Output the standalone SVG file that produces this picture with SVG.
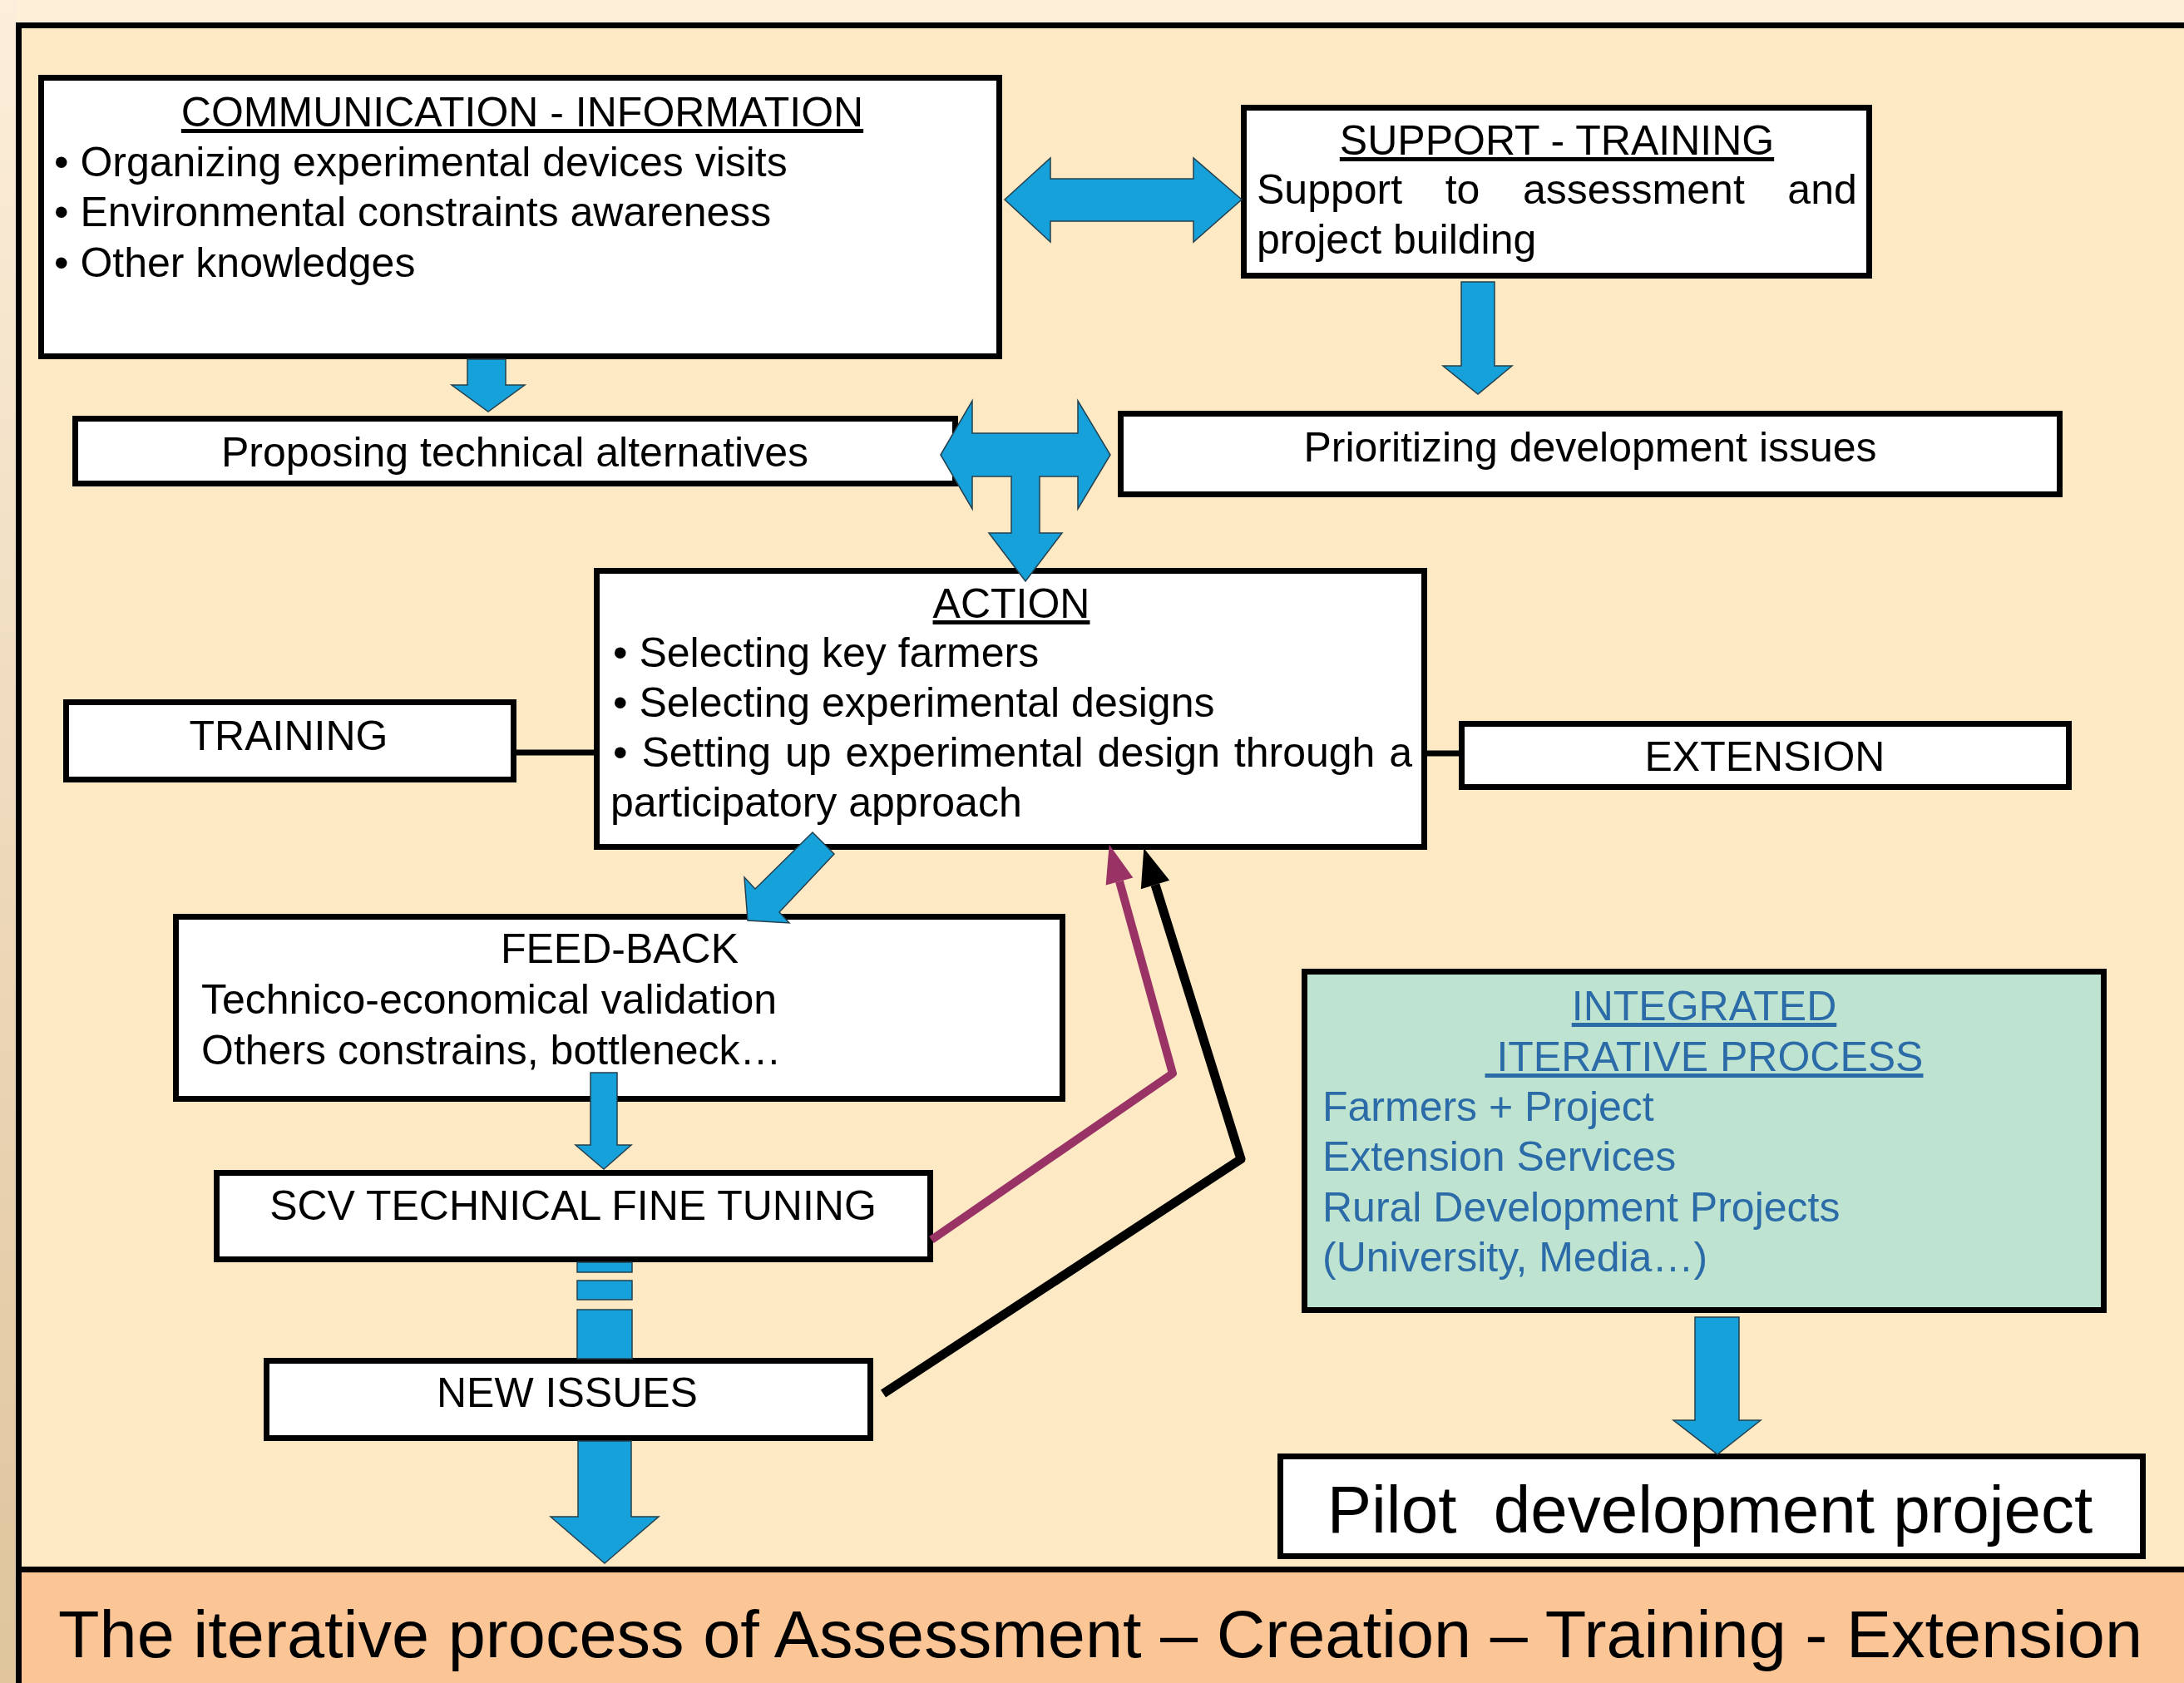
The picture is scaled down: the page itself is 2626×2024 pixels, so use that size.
<svg xmlns="http://www.w3.org/2000/svg" width="2626" height="2024" viewBox="0 0 2626 2024">
<defs>
<linearGradient id="strip" x1="0" y1="0" x2="0" y2="1">
<stop offset="0" stop-color="#FCEEDA"/>
<stop offset="1" stop-color="#DFC49C"/>
</linearGradient>
<marker id="mPurple" markerUnits="userSpaceOnUse" markerWidth="50" markerHeight="40" refX="0" refY="17" orient="auto" overflow="visible">
<path d="M0,0 L46,17 L0,34 z" fill="#993366"/>
</marker>
<marker id="mBlack" markerUnits="userSpaceOnUse" markerWidth="50" markerHeight="40" refX="0" refY="18" orient="auto" overflow="visible">
<path d="M0,0 L46,18 L0,36 z" fill="#000"/>
</marker>
</defs>
<style>
.box{fill:#fff;stroke:#000;stroke-width:7}
.t{font-family:"Liberation Sans",Arial,sans-serif;font-size:50px;fill:#000}
.c{text-anchor:middle}
.u{text-decoration:underline}
.b{fill:#2B6CA8}
.arr{fill:#17A1DB;stroke:#24404E;stroke-width:1.5;stroke-linejoin:miter}
.ln{stroke:#000;stroke-width:7;fill:none}
</style>
<rect x="0" y="0" width="2626" height="2024" fill="#FDEFD8"/>
<rect x="0" y="0" width="20" height="2024" fill="url(#strip)"/>
<rect x="22.5" y="30.5" width="2620" height="1857" fill="#FEE9C5"/>
<rect x="22.5" y="1887.5" width="2620" height="150" fill="#FBC595"/>
<path d="M22.5,2030 V30.5 H2640 M22.5,1887.5 H2640" fill="none" stroke="#000" stroke-width="7"/>

<g id="communication">
<rect class="box" x="49.5" y="93.5" width="1152" height="335"/>
<text class="t c u" x="628" y="152">COMMUNICATION - INFORMATION</text>
<text class="t" x="65" y="212">• Organizing experimental devices visits</text>
<text class="t" x="65" y="272">• Environmental constraints awareness</text>
<text class="t" x="65" y="333">• Other knowledges</text>
</g>
<g id="support">
<rect class="box" x="1495.5" y="129.5" width="752" height="202"/>
<text class="t c u" x="1872" y="186">SUPPORT - TRAINING</text>
<text class="t" x="1511" y="245" word-spacing="37.7">Support to assessment and</text>
<text class="t" x="1511" y="305">project building</text>
</g>
<g id="proposing">
<rect class="box" x="90.5" y="503.5" width="1058" height="78"/>
<text class="t c" x="619" y="561">Proposing technical alternatives</text>
</g>
<g id="prioritizing">
<rect class="box" x="1347.5" y="497.5" width="1129" height="97"/>
<text class="t c" x="1912" y="555">Prioritizing development issues</text>
</g>
<g id="action">
<rect class="box" x="717.5" y="686.5" width="995" height="332"/>
<text class="t c u" x="1216" y="743">ACTION</text>
<text class="t" x="737" y="802">• Selecting key farmers</text>
<text class="t" x="737" y="862">• Selecting experimental designs</text>
<text class="t" x="737" y="922" word-spacing="3">• Setting up experimental design through a</text>
<text class="t" x="734" y="982">participatory approach</text>
</g>
<g id="training">
<rect class="box" x="79.5" y="844.5" width="538" height="93"/>
<text class="t c" x="347" y="902">TRAINING</text>
</g>
<g id="extension">
<rect class="box" x="1757.5" y="870.5" width="730" height="76"/>
<text class="t c" x="2122" y="927">EXTENSION</text>
</g>
<g id="feedback">
<rect class="box" x="211.5" y="1102.5" width="1066" height="219"/>
<text class="t c" x="745" y="1158">FEED-BACK</text>
<text class="t" x="242" y="1219">Technico-economical validation</text>
<text class="t" x="242" y="1280">Others constrains, bottleneck…</text>
</g>
<g id="scv">
<rect class="box" x="260.5" y="1410.5" width="858" height="104"/>
<text class="t c" x="689" y="1467">SCV TECHNICAL FINE TUNING</text>
</g>
<g id="newissues">
<rect class="box" x="320.5" y="1636.5" width="726" height="93"/>
<text class="t c" x="682" y="1692">NEW ISSUES</text>
</g>
<g id="integrated">
<rect x="1568.5" y="1168.5" width="961" height="407" fill="#BFE3D1" stroke="#000" stroke-width="7"/>
<text class="t c u b" x="2049" y="1227">INTEGRATED</text>
<text class="t c u b" x="2049" y="1288" style="white-space:pre"> ITERATIVE PROCESS</text>
<text class="t b" x="1590" y="1348">Farmers + Project</text>
<text class="t b" x="1590" y="1408">Extension Services</text>
<text class="t b" x="1590" y="1469">Rural Development Projects</text>
<text class="t b" x="1590" y="1529">(University, Media…)</text>
</g>
<g id="pilot">
<rect class="box" x="1539.5" y="1751.5" width="1037" height="120"/>
<text class="t c" x="2056" y="1843" style="font-size:80px;white-space:pre">Pilot  development project</text>
</g>
<g id="footer">
<text class="t" x="70" y="1993" style="font-size:80px" textLength="2506" lengthAdjust="spacingAndGlyphs">The iterative process of Assessment – Creation – Training - Extension</text>
</g>

<g id="connectors">
<line class="ln" x1="617" y1="905" x2="718" y2="905"/>
<line class="ln" x1="1712" y1="906" x2="1758" y2="906"/>
<polygon class="arr" points="1208,240 1263,190 1263,215 1435,215 1435,190 1493,240 1435,291 1435,266 1263,266 1263,291"/>
<polygon class="arr" points="562,432 608,432 608,463 631,463 587,495 543,463 562,463"/>
<polygon class="arr" points="1757,339 1797,339 1797,440 1818,440 1777,474 1735,440 1757,440"/>
<polygon class="arr" points="1131,547 1169,482 1169,521 1296,521 1296,482 1335,547 1296,612 1296,573 1250,573 1250,641 1277,641 1233,699 1189,641 1216,641 1216,573 1169,573 1169,612"/>
<polygon class="arr" points="977,1001 1003,1027 937,1097 949,1110 899,1107 895,1055 908,1069"/>
<polygon class="arr" points="710,1290 742,1290 742,1377 759,1377 726,1406 692,1377 710,1377"/>
<rect class="arr" x="694" y="1518" width="66" height="12"/>
<rect class="arr" x="694" y="1540" width="66" height="23"/>
<rect class="arr" x="694" y="1575" width="66" height="59"/>
<polygon class="arr" points="695,1733 759,1733 759,1824 792,1824 727,1880 662,1824 695,1824"/>
<polygon class="arr" points="2038,1584 2091,1584 2091,1708 2117,1708 2065,1749 2012,1708 2038,1708"/>
<polyline points="1120,1491 1410,1291 1346,1060" fill="none" stroke="#993366" stroke-width="10" stroke-linejoin="round" marker-end="url(#mPurple)"/>
<polyline points="1062,1676 1492,1394 1389,1064" fill="none" stroke="#000" stroke-width="11" stroke-linejoin="round" marker-end="url(#mBlack)"/>
</g>
</svg>
